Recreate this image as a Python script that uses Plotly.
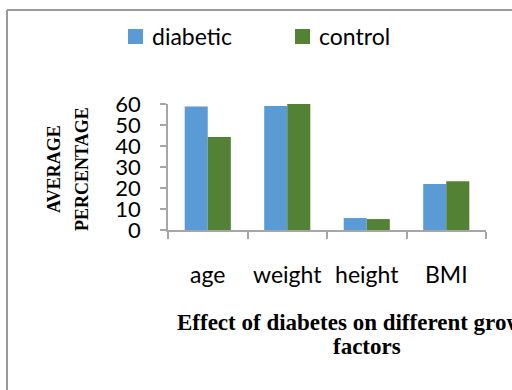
import plotly.graph_objects as go

# Average percentage per growth factor
factors = ["age", "weight", "height", "BMI"]
diabetic = [58.8, 59.0, 5.7, 21.9]
control = [44.3, 60.3, 5.2, 23.2]
y_ticks = [0, 10, 20, 30, 40, 50, 60]
series_names = ["diabetic", "control"]
series_colors = ["#5b9bd5", "#548235"]

W, H = 512, 390
L, R, T, B = 168, 26, 104, 160

def px_x(px):
    return (px - L) / (W - L - R)

def px_y(py):
    return (H - B - py) / (H - T - B)

fig = go.Figure()
for name, vals, col in zip(series_names, [diabetic, control], series_colors):
    fig.add_trace(go.Bar(name=name, x=factors, y=vals,
                         marker=dict(color=col, line=dict(width=0)),
                         cliponaxis=False, showlegend=False))

axis_grey = "#a6a6a6"
sans = "Lato, Open Sans, sans-serif"
serif = "Liberation Serif, Times New Roman, serif"
tick_font = dict(family=sans, size=23, color="#000000")

fig.update_layout(
    width=W, height=H,
    margin=dict(l=L, r=R, t=T, b=B, pad=0),
    paper_bgcolor="white", plot_bgcolor="white",
    barmode="group", bargap=0.42, bargroupgap=0,
    xaxis=dict(showline=True, linecolor=axis_grey, linewidth=1.5,
               ticks="outside", tickson="boundaries", ticklen=7, tickcolor=axis_grey,
               tickwidth=1.5, tickfont=tick_font, ticklabelstandoff=24,
               showgrid=False, zeroline=False),
    yaxis=dict(range=[0, 60], tickvals=y_ticks, showline=True, linecolor=axis_grey,
               linewidth=1.5, ticks="outside", ticklen=6, tickcolor=axis_grey,
               tickwidth=1.5, tickfont=dict(family=sans, size=22, color="#000000"),
               ticklabelstandoff=15, showgrid=False, zeroline=False),
)

# Legend: coloured squares with labels across the top
legend_boxes = [(128, 150), (295, 317)]
for (sq_x, txt_x), name, col in zip(legend_boxes, series_names, series_colors):
    fig.add_shape(type="rect", xref="paper", yref="paper",
                  x0=px_x(sq_x), x1=px_x(sq_x + 15), y0=px_y(29), y1=px_y(44),
                  fillcolor=col, line=dict(width=0))
    fig.add_annotation(text=name, xref="paper", yref="paper",
                       x=px_x(txt_x), y=px_y(36), xanchor="left", yanchor="middle",
                       showarrow=False, font=tick_font)

# Y-axis title on two rotated lines
title_font = dict(family=serif, size=18, color="#000000", weight="bold")
for line, cx in [("AVERAGE", 54), ("PERCENTAGE", 82)]:
    fig.add_annotation(text=line, xref="paper", yref="paper",
                       x=px_x(cx), y=px_y(169), xanchor="center", yanchor="middle",
                       textangle=-90, showarrow=False, font=title_font)

# Chart title, second line wraps; the first runs past the right edge
head_font = dict(family=serif, size=23, color="#000000", weight="bold")
fig.add_annotation(text="Effect of diabetes on different growth",
                   xref="paper", yref="paper", x=px_x(175), y=px_y(322),
                   xanchor="left", yanchor="middle", showarrow=False, font=head_font)
fig.add_annotation(text="factors",
                   xref="paper", yref="paper", x=px_x(367), y=px_y(346),
                   xanchor="center", yanchor="middle", showarrow=False, font=head_font)

# Chart-area border (top and left edges)
border = dict(color="#9a9a9a", width=2)
fig.add_shape(type="line", xref="paper", yref="paper",
              x0=px_x(7), y0=px_y(10), x1=px_x(520), y1=px_y(10), line=border)
fig.add_shape(type="line", xref="paper", yref="paper",
              x0=px_x(7), y0=px_y(10), x1=px_x(7), y1=px_y(400), line=border)

fig.write_html("out.html")
